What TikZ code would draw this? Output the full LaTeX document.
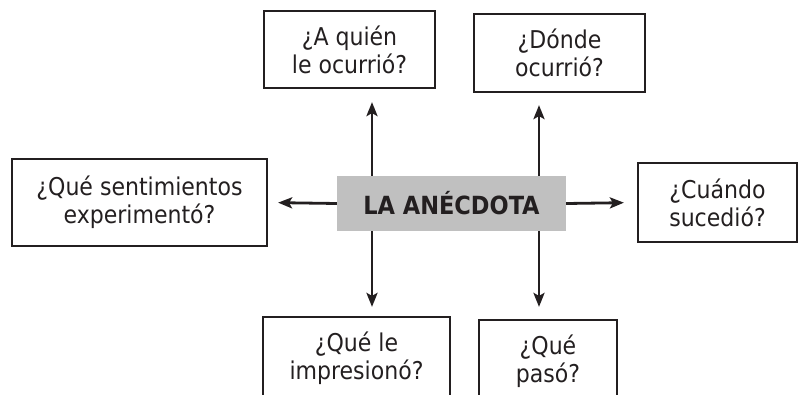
\documentclass[tikz,border=0pt]{standalone}
\usepackage{fontspec}
\setmainfont{DejaVu Sans Condensed}
\usetikzlibrary{arrows.meta}
\definecolor{txtgray}{HTML}{231F20}
\definecolor{boxgray}{HTML}{C0C0C0}

\begin{document}
\begin{tikzpicture}[x=1pt,y=-1pt,
        qbox/.style={draw=txtgray,line width=2.2pt,inner sep=0pt,align=center,
            text=txtgray,font=\fontsize{24.5}{28}\selectfont},
        arr/.style={draw=txtgray,line width=2.8pt,-{Stealth[length=14pt,width=11pt,inset=3pt]}}]
        \clip (0,0) rectangle (798,394);

        \node[qbox,minimum width=171,minimum height=77] (quien) at (349.5,49.5) {¿A quién\\le ocurrió?};
        \node[qbox,minimum width=171,minimum height=78] (donde) at (559.5,53) {¿Dónde\\ocurrió?};
        \node[qbox,minimum width=255,minimum height=87] (sentim) at (139.5,202.5) {¿Qué sentimientos\\experimentó?};
        \node[qbox,minimum width=159,minimum height=79] (cuando) at (717.5,202.5) {¿Cuándo\\sucedió?};
        \node[qbox,minimum width=187,minimum height=82] (impres) at (356.5,358) {¿Qué le\\impresionó?};
        \node[qbox,minimum width=138,minimum height=82] (paso) at (548,361) {¿Qué\\pasó?};

        \node[fill=boxgray,minimum width=229,minimum height=55,inner sep=0pt,
            text=txtgray,font=\fontsize{25}{28}\selectfont\bfseries] (anec) at (451.5,203.5) {LA ANÉCDOTA};

        \coordinate (colA) at (372,0);
        \coordinate (colB) at (539,0);

        \draw[arr,shorten >=13pt] (anec.north -| colA) -- (quien.south -| colA);
        \draw[arr,shorten >=12pt] (anec.north -| colB) -- (donde.south -| colB);
        \draw[arr,shorten >=9pt] (anec.south -| colA) -- (impres.north -| colA);
        \draw[arr,shorten >=12pt] (anec.south -| colB) -- (paso.north -| colB);
        \draw[arr,shorten >=10pt] (anec.west) -- (sentim.east);
        \draw[arr,shorten >=13pt] (anec.east) -- (cuando.west);
    \end{tikzpicture}
\end{document}
